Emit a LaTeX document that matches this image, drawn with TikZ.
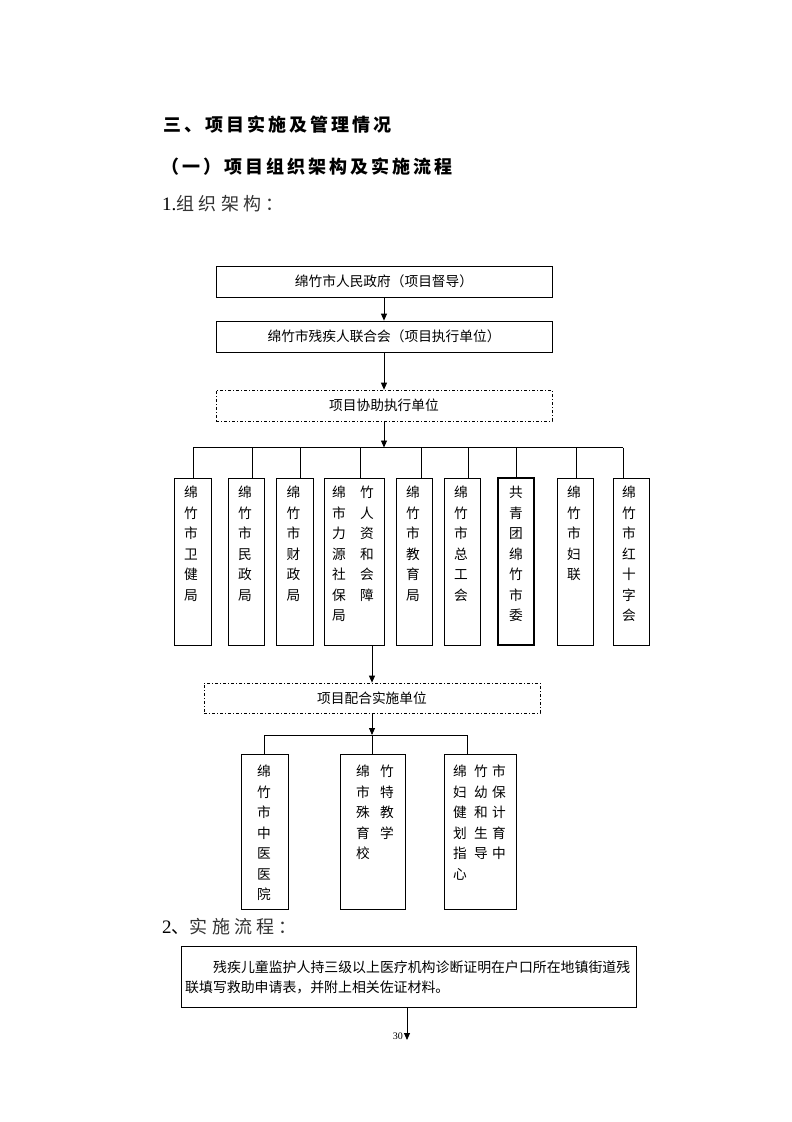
\documentclass[tikz,border=0pt]{standalone}
\usepackage{fontspec}
\setmainfont{Liberation Serif}
\newfontfamily\cjk{Noto Sans CJK SC}
\newfontfamily\cjkhead[LetterSpace=17]{Noto Sans CJK SC}
\newfontfamily\cjksub[LetterSpace=24]{Noto Sans CJK SC}
\usetikzlibrary{arrows.meta}
\tikzset{
  box/.style={draw, line width=0.8pt, inner sep=0pt},
  dashbox/.style={draw, line width=0.7pt, inner sep=0pt, dash pattern=on 3pt off 2pt on 1pt off 2pt},
  boxtext/.style={inner sep=0pt, align=center, font=\cjk\fontsize{13.7}{20.5}\selectfont},
  coltext/.style={inner sep=0pt, anchor=north, align=center, font=\cjk\fontsize{13.7}{20.5}\selectfont},
  link/.style={line width=0.8pt},
  arr/.style={line width=0.8pt, -{Triangle[length=7pt,width=6pt]}},
}
\begin{document}
\begin{tikzpicture}[x=1pt,y=-1pt]
\useasboundingbox[fill=white] (0,0) rectangle (792,1122);

% headings
\node[anchor=west, inner sep=0pt, font=\cjkhead\bfseries\fontsize{18}{20}\selectfont] (h1) at (163,125) {三、项目实施及管理情况};
\node[anchor=west, inner sep=0pt, font=\cjkhead\bfseries\fontsize{18}{20}\selectfont] (h2) at (161,167) {（一）项目组织架构及实施流程};
\node[anchor=west, inner sep=0pt, font=\fontsize{19}{20}\selectfont] (h3) at (162,204) {1.{\cjksub\fontsize{18}{20}\selectfont\color{black!80}组织架构：}};

% top boxes
\node[box, minimum width=336pt, minimum height=31pt] (t1) at (384,281.5) {};
\node[boxtext] (t1t) at (t1.center) {绵竹市人民政府（项目督导）};
\node[box, minimum width=336pt, minimum height=31pt] (t2) at (384,336.5) {};
\node[boxtext] (t2t) at (t2.center) {绵竹市残疾人联合会（项目执行单位）};
\node[dashbox, minimum width=336pt, minimum height=31pt] (d1) at (384,405.5) {};
\node[boxtext] (d1t) at (d1.center) {项目协助执行单位};

\draw[arr] (t1.south) -- (t2.north);
\draw[arr] (t2.south) -- (d1.north);

% bus 1
\coordinate (bus0) at (384,447.5);
\coordinate (busL) at (193,447.5);
\coordinate (busR) at (623,447.5);
\draw[arr] (d1.south) -- (bus0);
\draw[link] (busL) -- (busR);

% row of boxes
\node[box, minimum width=37pt, minimum height=167pt] (b1) at (192.5,561.5) {};
\node[box, minimum width=36pt, minimum height=167pt] (b2) at (246,561.5) {};
\node[box, minimum width=37pt, minimum height=167pt] (b3) at (294.5,561.5) {};
\node[box, minimum width=60pt, minimum height=167pt] (b4) at (354,561.5) {};
\node[box, minimum width=36pt, minimum height=167pt] (b5) at (414,561.5) {};
\node[box, minimum width=36pt, minimum height=167pt] (b6) at (462,561.5) {};
\node[box, line width=1.1pt, minimum width=36pt, minimum height=167pt] (b7) at (516,561.5) {};
\node[box, minimum width=36pt, minimum height=167pt] (b8) at (575,561.5) {};
\node[box, minimum width=36pt, minimum height=167pt] (b9) at (631,561.5) {};

\node[coltext] (b1t) at (191,486) {绵\\竹\\市\\卫\\健\\局};
\node[coltext] (b2t) at (245,486) {绵\\竹\\市\\民\\政\\局};
\node[coltext] (b3t) at (293.5,486) {绵\\竹\\市\\财\\政\\局};
\node[coltext] (b4ta) at (339,486) {绵\\市\\力\\源\\社\\保\\局};
\node[coltext] (b4tb) at (367,486) {竹\\人\\资\\和\\会\\障};
\node[coltext] (b5t) at (413,486) {绵\\竹\\市\\教\\育\\局};
\node[coltext] (b6t) at (461,486) {绵\\竹\\市\\总\\工\\会};
\node[coltext] (b7t) at (516,486) {共\\青\\团\\绵\\竹\\市\\委};
\node[coltext] (b8t) at (574,486) {绵\\竹\\市\\妇\\联};
\node[coltext] (b9t) at (629,486) {绵\\竹\\市\\红\\十\\字\\会};

\foreach \n/\x in {b1/193,b2/252,b3/300,b4/360,b5/421,b6/468,b7/516,b8/576,b9/623}{
  \draw[link] (\x,447.5) -- (\x,447.5 |- \n.north);
}

% second dash box
\node[dashbox, minimum width=336pt, minimum height=30pt] (d2) at (372,698) {};
\node[boxtext] (d2t) at (d2.center) {项目配合实施单位};
\coordinate (b4out) at (372,645);
\draw[arr] (b4out) -- (d2.north);

% bus 2
\coordinate (bus2) at (372,735);
\coordinate (bus2L) at (264.5,735);
\coordinate (bus2R) at (467,735);
\draw[arr] (d2.south) -- (bus2);
\draw[link] (bus2L) -- (bus2R);

\node[box, minimum width=47pt, minimum height=155pt] (cA) at (264.5,831.5) {};
\node[box, minimum width=65pt, minimum height=155pt] (cB) at (372.5,831.5) {};
\node[box, minimum width=72pt, minimum height=155pt] (cC) at (480,831.5) {};
\draw[link] (bus2L) -- (bus2L |- cA.north);
\draw[link] (bus2) -- (bus2 |- cB.north);
\draw[link] (bus2R) -- (bus2R |- cC.north);

\node[coltext] (cAt) at (264,765) {绵\\竹\\市\\中\\医\\医\\院};
\node[coltext] (cBta) at (363,765) {绵\\市\\殊\\育\\校};
\node[coltext] (cBtb) at (387,765) {竹\\特\\教\\学};
\node[coltext] (cCta) at (460,765) {绵\\妇\\健\\划\\指\\心};
\node[coltext] (cCtb) at (481,765) {竹\\幼\\和\\生\\导};
\node[coltext] (cCtc) at (499,765) {市\\保\\计\\育\\中};

% section 2
\node[anchor=west, inner sep=0pt, font=\fontsize{19}{20}\selectfont] (h4) at (162,927) {2{\cjksub\fontsize{18}{20}\selectfont、\color{black!80}实施流程：}};

\node[box, minimum width=455pt, minimum height=61pt] (p1) at (408.5,976.5) {};
\node[anchor=west, inner sep=0pt, font=\cjk\fontsize{13.9}{20}\selectfont] (p1a) at (213,967) {残疾儿童监护人持三级以上医疗机构诊断证明在户口所在地镇街道残};
\node[anchor=west, inner sep=0pt, font=\cjk\fontsize{13.9}{20}\selectfont] (p1b) at (185,987) {联填写救助申请表，并附上相关佐证材料。};

\coordinate (p1out) at (407,1007);
\coordinate (next) at (407,1040);
\draw[arr] (p1out) -- (next);
\node[anchor=east, inner sep=0pt, font=\fontsize{10}{12}\selectfont] (pg) at (403,1036) {30};
\end{tikzpicture}
\end{document}
